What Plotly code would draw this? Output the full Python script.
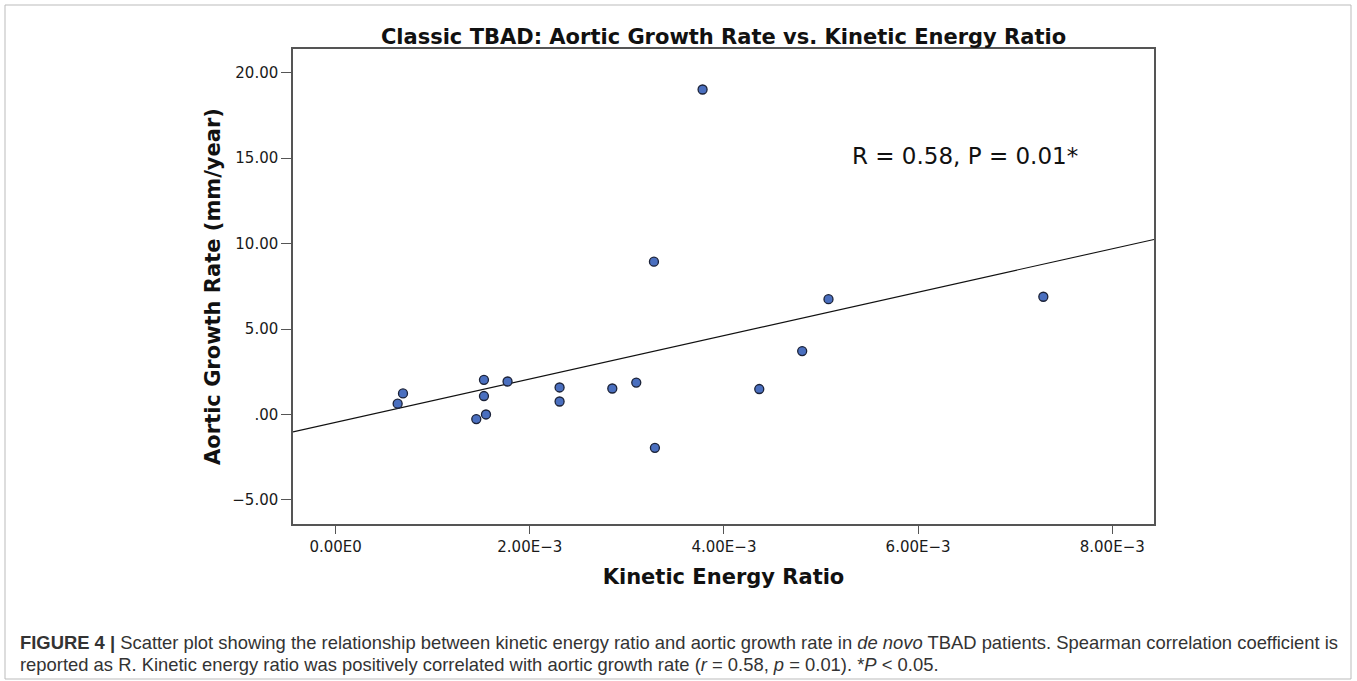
import numpy as np
import plotly.graph_objects as go

# ---- data ----
ke_ratio = [0.694e-3, 0.639e-3, 1.528e-3, 1.528e-3, 1.771e-3, 1.549e-3, 1.449e-3,
            2.307e-3, 2.307e-3, 3.279e-3, 5.077e-3, 4.806e-3, 2.850e-3, 3.097e-3,
            4.364e-3, 3.289e-3, 3.780e-3, 7.290e-3]
growth_rate = [1.23, 0.63, 2.03, 1.08, 1.93, 0.00, -0.27,
               1.58, 0.76, 8.94, 6.75, 3.71, 1.52, 1.87,
               1.49, -1.95, 19.02, 6.89]

x_tickvals = [0, 0.002, 0.004, 0.006, 0.008]
x_ticktext = ["0.00E0", "2.00E\u22123", "4.00E\u22123", "6.00E\u22123", "8.00E\u22123"]
y_tickvals = [-5, 0, 5, 10, 15, 20]
y_ticktext = ["\u22125.00", ".00", "5.00", "10.00", "15.00", "20.00"]

x_range = [-0.439e-3, 8.43e-3]
y_range = [-6.41, 21.39]

title_text = "Classic TBAD: Aortic Growth Rate vs. Kinetic Energy Ratio"
x_title = "Kinetic Energy Ratio"
y_title = "Aortic Growth Rate (mm/year)"
stat_text = "R = 0.58, P = 0.01*"
caption_1 = ("<b>FIGURE 4 |</b> Scatter plot showing the relationship between kinetic energy ratio "
             "and aortic growth rate in <i>de novo</i> TBAD patients. Spearman correlation coefficient is")
caption_2 = ("reported as R. Kinetic energy ratio was positively correlated with aortic growth rate "
             "(<i>r</i> = 0.58, <i>p</i> = 0.01). *<i>P</i> &lt; 0.05.")

# ---- figure geometry ----
W, H = 1357, 681
ML, MR, MT, MB = 293, 203, 49, 157
PW, PH = W - ML - MR, H - MT - MB


def px_x(px):
    return (px - ML) / PW


def px_y(py):
    return (H - MB - py) / PH


# linear fit line
slope, intercept = np.polyfit(np.array(ke_ratio), np.array(growth_rate), 1)
fit_x = np.array(x_range)
fit_y = slope * fit_x + intercept

fig = go.Figure()
fig.add_trace(go.Scatter(x=fit_x, y=fit_y, mode="lines",
                         line=dict(color="#111111", width=1.1),
                         hoverinfo="skip", showlegend=False))
fig.add_trace(go.Scatter(x=ke_ratio, y=growth_rate, mode="markers",
                         marker=dict(size=9, color="#4A6FBF",
                                     line=dict(color="#1B2238", width=1.3)),
                         showlegend=False))

tick_font = dict(family="DejaVu Sans", size=15, color="#1a1a1a")
title_font = dict(family="DejaVu Sans", size=21, color="#111111")

fig.update_xaxes(range=x_range, tickvals=x_tickvals, ticktext=x_ticktext,
                 showgrid=False, zeroline=False, showline=True, mirror=True,
                 linecolor="#555555", linewidth=1.5, ticks="outside", ticklen=8,
                 tickcolor="#555555", tickwidth=1.3, tickfont=tick_font,
                 title=dict(text="<b>" + x_title + "</b>", font=title_font, standoff=15))
fig.update_yaxes(range=y_range, tickvals=y_tickvals, ticktext=y_ticktext,
                 showgrid=False, zeroline=False, showline=True, mirror=True,
                 linecolor="#555555", linewidth=1.5, ticks="outside", ticklen=10,
                 tickcolor="#555555", tickwidth=1.3, tickfont=tick_font,
                 title=dict(text="<b>" + y_title + "</b>", font=title_font, standoff=6))

fig.update_layout(
    width=W, height=H,
    margin=dict(l=ML, r=MR, t=MT, b=MB, autoexpand=False),
    paper_bgcolor="white", plot_bgcolor="white",
    title=dict(text="<b>" + title_text + "</b>", x=0.5, xref="paper",
               y=1 - 37 / H, yref="container", yanchor="middle", xanchor="center",
               font=dict(family="DejaVu Sans", size=21, color="#111111")),
)

# statistics annotation
fig.add_annotation(x=px_x(850), y=px_y(156), xref="paper", yref="paper",
                   text=stat_text, showarrow=False, xanchor="left", yanchor="middle",
                   font=dict(family="DejaVu Sans", size=23, color="#111111"))

# caption
cap_font = dict(family="Liberation Sans", size=18.4, color="#333333")
fig.add_annotation(x=px_x(18), y=px_y(642), xref="paper", yref="paper",
                   text=caption_1, showarrow=False, xanchor="left", yanchor="middle",
                   font=cap_font)
fig.add_annotation(x=px_x(18), y=px_y(664), xref="paper", yref="paper",
                   text=caption_2, showarrow=False, xanchor="left", yanchor="middle",
                   font=cap_font)

# outer figure border
fig.add_shape(type="rect", xref="paper", yref="paper",
              x0=px_x(5), x1=px_x(1351), y0=px_y(679), y1=px_y(5),
              line=dict(color="#BBBBBB", width=1), layer="below")

fig.write_html("out.html", config={"displayModeBar": False},
               post_script="document.body.style.margin='0';")
